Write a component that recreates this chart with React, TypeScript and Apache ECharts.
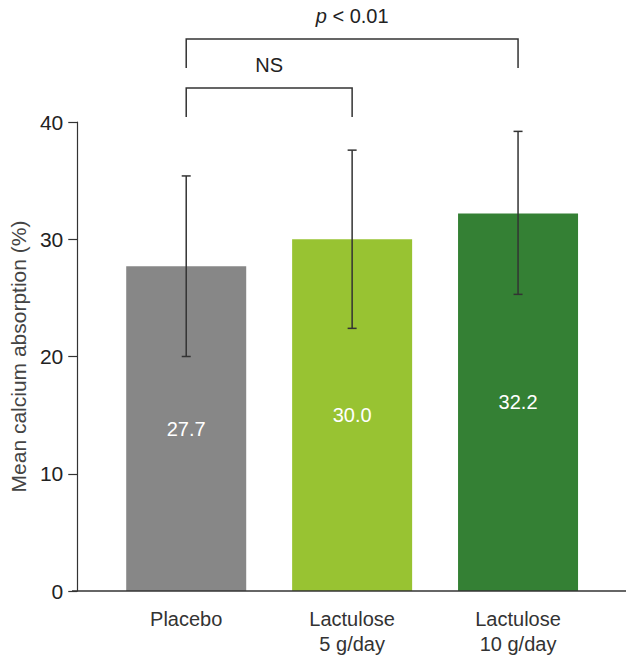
import React, { useEffect, useRef } from "react";
import * as echarts from "echarts";

const categories = ["Placebo", "Lactulose\n5 g/day", "Lactulose\n10 g/day"];
const means = [27.7, 30.0, 32.2];
const errLow = [20.0, 22.4, 25.3];
const errHigh = [35.4, 37.6, 39.2];
const barColors = ["#878787", "#98c332", "#348034"];
const yTicks = [0, 10, 20, 30, 40];

const FONT = "'Liberation Sans', Arial, sans-serif";

export default function App() {
  const ref = useRef<HTMLDivElement>(null);
  useEffect(() => {
    if (!ref.current) return;
    document.body.style.margin = "0";
    const chart = echarts.init(ref.current, null, { renderer: "svg" });
    const option: any = {
      animation: false,
      textStyle: { fontFamily: FONT },
      grid: { left: 98, right: 29, top: 122, bottom: 70, containLabel: false },
      xAxis: {
        type: "category",
        data: categories,
        axisLine: { show: false },
        axisTick: { show: false },
        axisLabel: { color: "#333", fontSize: 20, lineHeight: 25, margin: 15, fontFamily: FONT },
      },
      yAxis: {
        type: "value",
        min: yTicks[0],
        max: yTicks[yTicks.length - 1],
        interval: 10,
        offset: 26,
        name: "Mean calcium absorption (%)",
        nameLocation: "middle",
        nameGap: 46,
        nameRotate: 90,
        nameTextStyle: { color: "#444", fontSize: 21, fontFamily: FONT },
        axisLine: { show: true, lineStyle: { color: "#333", width: 1.2 } },
        axisTick: { show: true, length: 9, lineStyle: { color: "#333", width: 1.2 } },
        axisLabel: { color: "#222", fontSize: 21, margin: 14, fontFamily: FONT },
        splitLine: { show: false },
      },
      series: [
        {
          type: "bar",
          barWidth: 120,
          data: means.map((v, i) => ({ value: v, itemStyle: { color: barColors[i] } })),
          label: {
            show: true,
            position: "inside",
            color: "#fff",
            fontSize: 20,
            fontFamily: FONT,
            formatter: (p: any) => p.value.toFixed(1),
          },
          z: 2,
        },
        {
          type: "custom",
          data: means.map((_, i) => [i, errLow[i], errHigh[i]]),
          renderItem: (params: any, api: any) => {
            const i = api.value(0);
            const lo = api.coord([i, api.value(1)]);
            const hi = api.coord([i, api.value(2)]);
            const cap = 4.5;
            const style = { stroke: "#333", lineWidth: 1.5 };
            return {
              type: "group",
              children: [
                { type: "line", shape: { x1: lo[0], y1: lo[1], x2: hi[0], y2: hi[1] }, style },
                { type: "line", shape: { x1: lo[0] - cap, y1: lo[1], x2: lo[0] + cap, y2: lo[1] }, style },
                { type: "line", shape: { x1: hi[0] - cap, y1: hi[1], x2: hi[0] + cap, y2: hi[1] }, style },
              ],
            };
          },
          z: 5,
        },
      ],
    };
    chart.setOption(option);

    const px = (i: number) => chart.convertToPixel({ xAxisIndex: 0 }, i) as number;
    const base = chart.convertToPixel({ yAxisIndex: 0 }, 0) as number;
    const x0 = px(0), x1 = px(1), x2 = px(2);
    const ls = { stroke: "#333", lineWidth: 1.5, fill: "none" };
    chart.setOption({
      graphic: [
        { type: "line", shape: { x1: 72, y1: base, x2: 626, y2: base }, style: { stroke: "#333", lineWidth: 1.5 }, z: 10 },
        { type: "polyline", shape: { points: [[x0, 68], [x0, 39], [x2, 39], [x2, 68]] }, style: ls },
        { type: "polyline", shape: { points: [[x0, 117], [x0, 88], [x1, 88], [x1, 117]] }, style: ls },
        {
          type: "text",
          x: (x0 + x2) / 2,
          y: 16,
          style: {
            text: "{i|p} < 0.01",
            rich: { i: { fontStyle: "italic", fontSize: 20, fill: "#222", fontFamily: FONT } },
            fontSize: 20,
            fill: "#222",
            fontFamily: FONT,
            align: "center",
            verticalAlign: "middle",
          },
        },
        {
          type: "text",
          x: (x0 + x1) / 2,
          y: 65,
          style: { text: "NS", fontSize: 20, fill: "#222", fontFamily: FONT, align: "center", verticalAlign: "middle" },
        },
      ],
    });

    return () => chart.dispose();
  }, []);
  return <div ref={ref} style={{ width: 630, height: 661 }} />;
}
